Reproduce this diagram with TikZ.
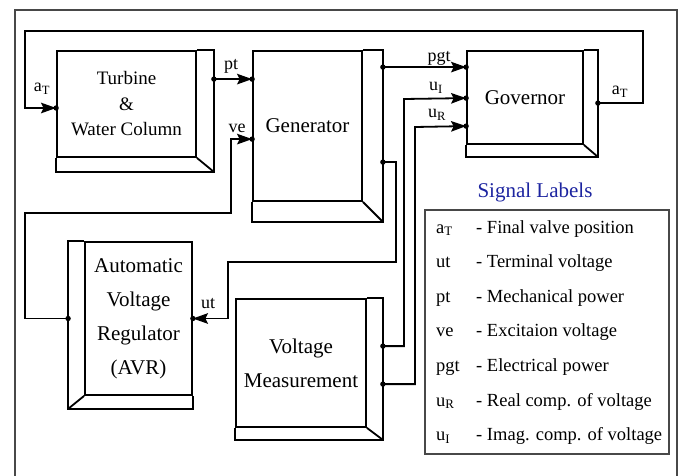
\documentclass[tikz,border=0pt]{standalone}
\usepackage{fontspec}
\setmainfont{Liberation Serif}
\usetikzlibrary{positioning,calc,arrows.meta}
\definecolor{LabelBlue}{RGB}{28,36,160}
\definecolor{FrameGray}{RGB}{72,72,72}
\newcommand{\bevelSE}[3]{%
  \draw[edge] (#1.north east) -| ($(#1.south east)+(#2,#3)$) -| (#1.south west);
  \draw[edge] (#1.south east) -- ++(#2,#3);}
\newcommand{\bevelSW}[3]{%
  \draw[edge] (#1.north west) -| ($(#1.south west)+(-#2,#3)$) -| (#1.south east);
  \draw[edge] (#1.south west) -- ++(-#2,#3);}

\begin{document}
\begin{tikzpicture}[x=1pt,y=-1pt,
    face/.style={draw, line width=1.8pt, inner sep=0pt, align=center,
      font=\fontsize{21}{34}\selectfont},
    edge/.style={line width=1.8pt},
    sig/.style={line width=1.8pt, -{Stealth[length=15pt 0 0,width=10.5pt 0 0,inset=2.5pt]}},
    lbl/.style={anchor=base, inner sep=0pt, font=\fontsize{18}{18}\selectfont},
    legtxt/.style={anchor=base west, inner sep=0pt, font=\fontsize{18.5}{18.5}\selectfont},
    frame/.style={draw=FrameGray, line width=1.4pt}
  ]
    \useasboundingbox (0,0) rectangle (680,476);
    \draw[frame] (15,480) |- (677,10) -- (677,480);

    \node[face, font=\fontsize{19}{25.5}\selectfont, minimum width=139pt, minimum height=106pt]
      (turb) at (126.5,104) {Turbine\\\&\\Water Column};
    \node[face, minimum width=109pt, minimum height=150pt] (gen) at (307.5,126) {Generator};
    \node[face, minimum width=116pt, minimum height=93pt] (gov) at (525,97.5) {Governor};
    \node[face, minimum width=130pt, minimum height=128pt] (vm) at (301,363) {Voltage\\Measurement};
    \node[face, minimum width=107pt, minimum height=153pt] (avr) at (138.5,318.5)
      {Automatic\\Voltage\\Regulator\\(AVR)};
    \bevelSE{turb}{17}{14}
    \bevelSE{gen}{20}{20}
    \bevelSE{gov}{14}{12}
    \bevelSE{vm}{16}{12}
    \bevelSW{avr}{16}{13}

    \coordinate (turb-in) at ([shift={(0,4)}]turb.west);
    \coordinate (turb-out) at ([shift={(17,29)}]turb.north east);
    \coordinate (gen-pt) at ([shift={(0,29)}]gen.north west);
    \coordinate (gen-ve) at ([shift={(0,89)}]gen.north west);
    \coordinate (gen-pgt) at ([shift={(20,17)}]gen.north east);
    \coordinate (gen-ut) at ([shift={(20,112)}]gen.north east);
    \coordinate (gov-pgt) at ([shift={(0,17)}]gov.north west);
    \coordinate (gov-ui) at ([shift={(0,48)}]gov.north west);
    \coordinate (gov-ur) at ([shift={(0,76)}]gov.north west);
    \coordinate (gov-out) at ([shift={(14,53)}]gov.north east);
    \coordinate (vm-ui) at ([shift={(16,48)}]vm.north east);
    \coordinate (vm-ur) at ([shift={(16,86)}]vm.north east);
    \coordinate (avr-ut) at (avr.east);
    \coordinate (avr-ve) at ([shift={(-16,0)}]avr.west);

    \coordinate (fb-r) at (643,31);
    \coordinate (fb-l) at (25,31);
    \coordinate (ve-a) at (25,213);
    \coordinate (ve-b) at (231,213);
    \coordinate (ut-a) at (396,262);
    \coordinate (ut-b) at (228,262);
    \coordinate (ui-a) at (404,99);
    \coordinate (ur-a) at (415,127);

    \draw[sig] (gov-out) -| (fb-r) -- (fb-l) |- (turb-in);
    \draw[sig] (turb-out) -- (gen-pt);
    \draw[sig] (avr-ve) -| (ve-a) -- (ve-b) |- (gen-ve);
    \draw[sig] (gen-pgt) -- (gov-pgt);
    \draw[sig] (gen-ut) -| (ut-a) -- (ut-b) |- (avr-ut);
    \draw[sig] (vm-ui) -| (ui-a) -- (gov-ui);
    \draw[sig] (vm-ur) -| (ur-a) -- (gov-ur);
    \foreach \p in {turb-in,turb-out,gen-pt,gen-ve,gen-pgt,gen-ut,gov-pgt,gov-ui,gov-ur,
      gov-out,vm-ui,vm-ur,avr-ut,avr-ve}
      \fill (\p) circle (2.7pt);

    \node[lbl] (l-pt) at (231,70) {pt};
    \node[lbl] (l-ve) at (237,132) {ve};
    \node[lbl] (l-pgt) at (439,62) {pgt};
    \node[lbl] (l-ui) at (436,91) {u\textsubscript{I}};
    \node[lbl] (l-ur) at (437,118) {u\textsubscript{R}};
    \node[lbl] (l-ut) at (208,308) {ut};
    \node[lbl] (l-atl) at (42,92) {a\textsubscript{T}};
    \node[lbl] (l-atr) at (620,95) {a\textsubscript{T}};

    \node[anchor=base, inner sep=0pt, text=LabelBlue, font=\fontsize{21}{21}\selectfont]
      (legtitle) at (535,197) {Signal Labels};
    \node[draw=FrameGray, line width=1.4pt, minimum width=244pt, minimum height=244pt]
      (legend) at (547,332) {};
    \foreach \s/\t [count=\i] in {a\textsubscript{T}/Final valve position,
      ut/Terminal voltage, pt/Mechanical power, ve/Excitaion voltage,
      pgt/Electrical power, u\textsubscript{R}/Real comp. of voltage,
      u\textsubscript{I}/Imag. comp. of voltage} {
      \node[legtxt] (sym\i) at (436,{233+34.6*(\i-1)}) {\s};
      \node[legtxt] (desc\i) at (476,{233+34.6*(\i-1)}) {- \t};
    }
  \end{tikzpicture}
\end{document}
